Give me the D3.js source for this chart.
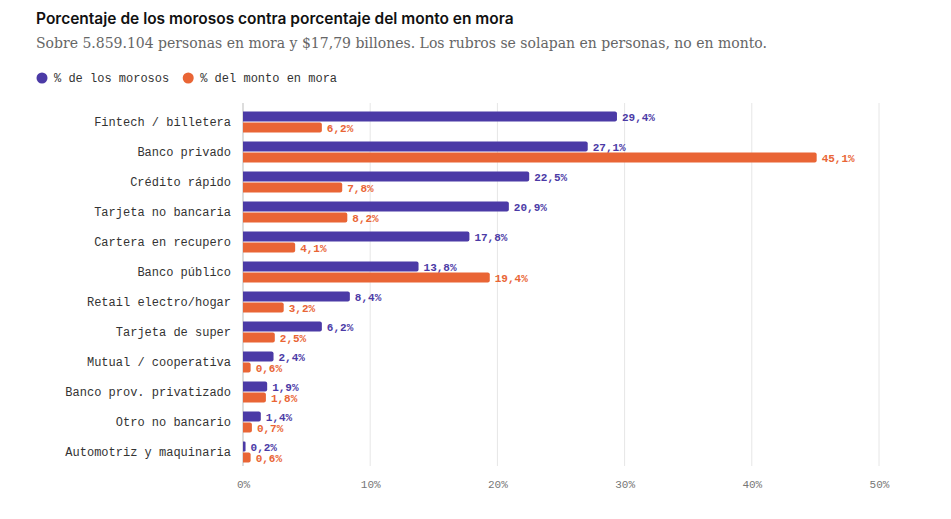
<!DOCTYPE html>
<html><head><meta charset="utf-8">
<script src="https://cdn.jsdelivr.net/npm/d3@7"></script>
<style>
body{margin:0;background:#fff;}
text{font-family:"Liberation Mono","DejaVu Sans Mono",monospace;}
</style></head>
<body><div id="chart"></div>
<script>
const categories = ["Fintech / billetera","Banco privado","Crédito rápido","Tarjeta no bancaria","Cartera en recupero","Banco público","Retail electro/hogar","Tarjeta de super","Mutual / cooperativa","Banco prov. privatizado","Otro no bancario","Automotriz y maquinaria"];
const morosos = [29.4,27.1,22.5,20.9,17.8,13.8,8.4,6.2,2.4,1.9,1.4,0.2];
const monto = [6.2,45.1,7.8,8.2,4.1,19.4,3.2,2.5,0.6,1.8,0.7,0.6];
const xTicks = [0,10,20,30,40,50];
const seriesNames = ["% de los morosos","% del monto en mora"];
const colors = ["#4b3aa6","#e96535"];

const W = 951, H = 519;
const svg = d3.select("#chart").append("svg").attr("width", W).attr("height", H);

svg.append("text").attr("x", 36).attr("y", 24)
  .style("font-family", "Inter, 'Open Sans', sans-serif").style("font-size", "15.5px").style("font-weight", 600)
  .attr("fill", "#111").text("Porcentaje de los morosos contra porcentaje del monto en mora");
svg.append("text").attr("x", 36).attr("y", 48)
  .style("font-family", "'DejaVu Serif', 'Liberation Serif', serif").style("font-size", "14px")
  .attr("fill", "#666").text("Sobre 5.859.104 personas en mora y $17,79 billones. Los rubros se solapan en personas, no en monto.");

// legend
let lx = 37;
seriesNames.forEach((n, i) => {
  svg.append("circle").attr("cx", lx + 5).attr("cy", 78).attr("r", 5.5).attr("fill", colors[i]);
  const t = svg.append("text").attr("x", lx + 17).attr("y", 82).style("font-size", "12px").attr("fill", "#333").text(n);
  lx += 17 + t.node().getComputedTextLength() + 14;
});

const x = d3.scaleLinear().domain([0, 50]).range([243, 879]);
const y = d3.scaleBand().domain(categories).range([107, 467]);

const grid = svg.append("g");
grid.selectAll("line").data(xTicks).join("line")
  .attr("x1", d => x(d)).attr("x2", d => x(d)).attr("y1", 103).attr("y2", 466)
  .attr("stroke", d => d === 0 ? "#bbb" : "#e6e6e6").attr("stroke-width", 1);

const xAxis = d3.axisBottom(x).tickValues(xTicks).tickFormat(d => d + "%").tickSize(0).tickPadding(0);
const ax = svg.append("g").attr("transform", "translate(0,488)").call(xAxis);
ax.select(".domain").remove();
ax.selectAll("text").style("font-family", "'Liberation Mono', monospace").style("font-size", "11px").attr("fill", "#777").attr("dy", 0);

const row = svg.append("g").selectAll("g").data(categories).join("g")
  .attr("transform", d => `translate(0,${y(d) + y.bandwidth() / 2})`);
row.append("text").attr("x", 231).attr("y", 4).attr("text-anchor", "end")
  .style("font-size", "12px").attr("fill", "#333").text(d => d);

const bh = 10;
[morosos, monto].forEach((vals, s) => {
  const yo = s === 0 ? -bh - 0.5 : 0.5;
  row.append("path").attr("fill", colors[s])
    .attr("d", (d, i) => {
      const x0 = x(0), x1 = Math.max(x(vals[i]), x0 + 2), r = Math.min(2, (x1 - x0) / 2);
      return `M${x0},${yo}H${x1 - r}Q${x1},${yo} ${x1},${yo + r}V${yo + bh - r}Q${x1},${yo + bh} ${x1 - r},${yo + bh}H${x0}Z`;
    });
  row.append("text").attr("x", (d, i) => Math.max(x(vals[i]), x(0) + 2) + 5).attr("y", yo + bh - 1)
    .style("font-size", "11px").style("font-weight", "bold").attr("fill", colors[s])
    .text((d, i) => vals[i].toFixed(1).replace(".", ",") + "%");
});
</script></body></html>
